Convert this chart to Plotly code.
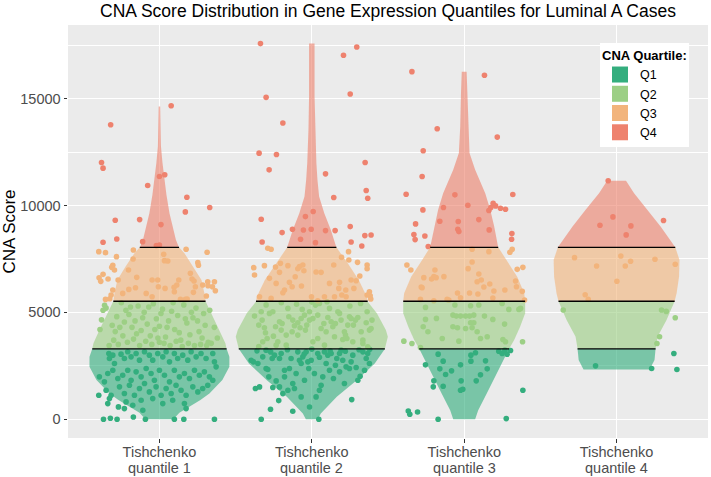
import numpy as np
import plotly.graph_objects as go

# ---------------- data ----------------
categories = ["Tishchenko<br>quantile 1", "Tishchenko<br>quantile 2",
              "Tishchenko<br>quantile 3", "Tishchenko<br>quantile 4"]
quartile_names = ["Q1", "Q2", "Q3", "Q4"]
quartile_breaks = [3295, 5520, 8045]          # CNA score quartile cut points
y_tick_values = [0, 5000, 10000, 15000]
y_tick_labels = ["0", "5000", "10000", "15000"]

# violin outlines: CNA score levels and half-width (density, in category units)
g1_prof_val = [0, 300, 900, 1200, 1830, 2450, 2920, 3310, 3550, 4170, 4950, 5530, 5890,
               6520, 7140, 7770, 8060, 8400, 9020, 9640, 10500, 11200, 12000, 12770, 13500, 14640]
g1_prof_hw = [0.092, 0.131, 0.269, 0.328, 0.413, 0.459, 0.459, 0.440, 0.433, 0.394, 0.341, 0.302, 0.295,
              0.276, 0.223, 0.164, 0.127, 0.108, 0.085, 0.066, 0.046, 0.033, 0.020, 0.010, 0.008, 0.005]
g2_prof_val = [0, 266, 1047, 1828, 2610, 3282, 3860, 4172, 4954, 5500, 5735, 6516, 7298, 8049,
               8860, 9642, 10422, 11204, 11986, 13548, 15110, 17580]
g2_prof_hw = [0.039, 0.059, 0.164, 0.295, 0.413, 0.479, 0.499, 0.486, 0.427, 0.367, 0.361, 0.308, 0.236, 0.161,
              0.125, 0.082, 0.048, 0.037, 0.030, 0.022, 0.018, 0.018]
g3_prof_val = [0, 422, 1203, 1985, 2766, 3297, 3704, 4329, 4954, 5532, 5891, 6672, 7454, 8049,
               9017, 9798, 10580, 11673, 12455, 13704, 15268, 16267]
g3_prof_hw = [0.072, 0.092, 0.148, 0.203, 0.256, 0.295, 0.328, 0.367, 0.400, 0.400, 0.394, 0.348, 0.276, 0.223,
              0.197, 0.171, 0.138, 0.072, 0.035, 0.026, 0.021, 0.016]
g4_prof_val = [2328, 2766, 3297, 3860, 4641, 5516, 5891, 6672, 7454, 8049, 9017, 9798, 10580, 11157]
g4_prof_hw = [0.217, 0.249, 0.256, 0.269, 0.328, 0.381, 0.394, 0.410, 0.413, 0.385, 0.289, 0.203, 0.115, 0.062]

# jittered cases: [horizontal jitter (category units), CNA score]
g1_points = [
    [0.077, 14673], [-0.32, 13782], [-0.38, 12016], [-0.37, 11750], [0.0, 11359], [0.035, 11438],
    [-0.077, 10937], [0.18, 10390], [0.17, 9703], [0.33, 9906], [-0.29, 9312], [-0.13, 9343],
    [0.01, 9109], [-0.28, 8436], [-0.37, 8280], [-0.11, 8311], [-0.02, 8124], [0.0, 8155],
    [-0.398, 7843], [-0.354, 7796], [-0.171, 7921], [0.175, 7952], [0.313, 7811], [-0.282, 7608],
    [0.028, 7717], [-0.306, 7202], [-0.313, 7108], [-0.295, 6983], [-0.203, 6983], [-0.149, 6639],
    [-0.370, 6780], [-0.337, 6561], [-0.396, 6623], [-0.385, 6452], [-0.271, 6514], [-0.048, 6514],
    [-0.011, 6514], [-0.007, 6201], [0.037, 6123], [0.096, 6170], [0.127, 6514], [0.114, 6279],
    [0.214, 6561], [0.227, 6467], [0.252, 7327], [0.256, 7202], [0.203, 6827], [0.055, 7405],
    [0.033, 7420], [0.236, 6201], [0.317, 6436], [0.319, 6248], [0.361, 6436], [0.348, 6201],
    [0.367, 6014], [-0.317, 5811], [-0.326, 5639], [-0.354, 5607], [-0.241, 5889], [-0.201, 6076],
    [-0.087, 5889], [-0.048, 5733], [0.098, 5967], [0.138, 5607], [0.171, 5607], [0.182, 5623],
    [0.223, 5936], [0.284, 6279], [0.308, 5764], [-0.173, 7499], [-0.157, 6154], [-0.306, 6045],
    [-0.36, 5330], [-0.35, 5200], [-0.37, 5100], [-0.38, 4650], [-0.31, 4400], [-0.28, 4800],
    [-0.25, 5450], [-0.22, 5100], [-0.2, 4900], [-0.18, 4300], [-0.16, 4600], [-0.14, 5300],
    [-0.12, 4150], [-0.1, 5000], [-0.08, 4450], [-0.06, 3900], [-0.04, 5400], [-0.02, 4700],
    [0.0, 4350], [0.02, 5150], [0.04, 3850], [0.06, 4600], [0.08, 5050], [0.1, 4200],
    [0.12, 4850], [0.14, 3700], [0.16, 5350], [0.18, 4500], [0.2, 3950], [0.22, 4750],
    [0.24, 5200], [0.26, 4100], [0.28, 3800], [0.3, 4400], [0.32, 3600], [-0.3, 3700],
    [-0.27, 3500], [-0.24, 3900], [-0.21, 3600], [-0.17, 3750], [-0.13, 3450], [-0.09, 3650],
    [-0.05, 3500], [-0.01, 3800], [0.03, 3550], [0.07, 3450], [0.11, 3650], [0.15, 3400],
    [0.19, 3550], [0.23, 3450], [0.27, 3500], [0.31, 3450], [0.34, 3550], [-0.33, 3450],
    [-0.29, 4100], [-0.26, 4300], [-0.23, 4550], [-0.19, 5250], [-0.15, 4000], [-0.11, 4750],
    [-0.07, 5250], [-0.03, 4200], [0.01, 4950], [0.05, 4300], [0.09, 5450], [0.13, 4050],
    [0.17, 4700], [0.21, 5000], [0.25, 4600], [0.29, 4950], [0.33, 5100], [0.36, 4300],
    [0.38, 3800], [-0.39, 4200], [0.0, 3600],
    [-0.332, 3076], [-0.306, 2997], [-0.328, 2841], [-0.295, 2607], [-0.252, 3044], [-0.230, 2841],
    [-0.208, 3154], [-0.186, 2919], [-0.153, 3076], [-0.131, 2763], [-0.098, 3154], [-0.066, 2997],
    [-0.044, 2763], [-0.011, 3076], [0.022, 2919], [0.044, 3154], [0.066, 2685], [0.098, 3076],
    [0.120, 2841], [0.153, 2997], [0.186, 2763], [0.208, 3154], [0.241, 2919], [0.273, 3076],
    [0.306, 2841], [0.350, 3076], [0.361, 2685], [-0.394, 1981], [-0.361, 1747], [-0.339, 2138],
    [-0.306, 2294], [-0.273, 1903], [-0.241, 2060], [-0.208, 2294], [-0.186, 1825], [-0.153, 2216],
    [-0.120, 1981], [-0.087, 2372], [-0.055, 2138], [-0.033, 1825], [0.0, 2294], [0.033, 2060],
    [0.066, 1747], [0.098, 2294], [0.131, 1981], [0.164, 2138], [0.197, 1903], [0.230, 2294],
    [0.262, 2060], [0.295, 2216], [0.328, 1981], [0.350, 1825], [-0.350, 1356], [-0.317, 1122],
    [-0.262, 1513], [-0.230, 1200], [-0.197, 1591], [-0.164, 1122], [-0.131, 1434], [-0.098, 1669],
    [-0.066, 1278], [-0.022, 1513], [0.011, 1122], [0.044, 1434], [0.077, 1200], [0.109, 1591],
    [0.142, 1356], [0.175, 1122], [0.219, 1513], [0.252, 1278], [0.284, 1434], [0.317, 1591],
    [-0.328, 965], [-0.339, 731], [-0.269, 575], [-0.219, 809], [-0.175, 653], [-0.120, 887],
    [-0.044, 965], [0.022, 731], [0.087, 887], [0.164, 731], [0.175, 496], [-0.230, 496],
    [-0.109, 418], [-0.367, 0], [-0.322, 43], [-0.278, 0], [-0.171, 105], [-0.092, 0],
    [0.098, 0], [0.160, 0], [0.361, 0], [-0.398, 1122], [0.372, 2450],
]
g2_points = [
    [-0.337, 17580], [0.295, 17423], [0.208, 17032], [-0.300, 15063], [0.252, 15219], [-0.190, 13860],
    [-0.346, 12453], [-0.232, 12390], [-0.280, 11671], [0.350, 12015], [0.090, 11484], [0.357, 10702],
    [0.367, 10343], [0.144, 10374], [-0.332, 9358], [0.009, 9718], [-0.042, 9483], [-0.127, 8889],
    [-0.195, 8733], [-0.055, 8858], [-0.004, 8889], [0.090, 8827], [0.153, 8827], [0.252, 9014],
    [-0.074, 8420], [0.024, 8264], [-0.326, 8295], [0.258, 8295], [0.348, 8592], [0.389, 8624],
    [0.328, 8108],
    [-0.289, 8000], [-0.267, 7951], [-0.381, 7092], [-0.376, 6748], [-0.311, 7186], [-0.238, 7123],
    [-0.278, 6592], [-0.206, 7295], [-0.157, 7186], [-0.092, 7045], [-0.081, 7139], [-0.059, 7217],
    [-0.052, 6951], [-0.212, 6873], [-0.147, 6404], [-0.109, 6670], [-0.129, 6201], [-0.068, 6232],
    [0.028, 6889], [0.061, 6873], [0.144, 7217], [0.195, 7576], [0.243, 7451], [0.241, 7842],
    [0.300, 7342], [0.363, 7217], [0.363, 7045], [0.315, 6701], [0.291, 6482], [0.258, 6514],
    [0.223, 6045], [0.197, 5810], [0.177, 6123], [0.182, 6404], [0.116, 6357], [-0.002, 5732],
    [0.083, 5732], [0.149, 5732], [0.225, 5732], [0.276, 6123], [0.378, 5967], [0.383, 5779],
    [0.387, 5623], [0.363, 5810], [0.039, 5545], [-0.343, 5732], [-0.267, 5654], [-0.179, 6045],
    [-0.190, 5920], [-0.234, 6357],
    [-0.376, 4826], [-0.332, 5029], [-0.326, 4638], [-0.348, 4404], [-0.311, 4279], [-0.304, 4044],
    [-0.322, 3622], [-0.278, 4951], [-0.256, 5029], [-0.238, 4326], [-0.212, 4560], [-0.201, 4169],
    [-0.195, 4482], [-0.223, 3622], [-0.234, 3466], [-0.157, 5185], [-0.151, 4795], [-0.125, 4638],
    [-0.114, 4372], [-0.092, 4513], [-0.077, 4279], [-0.070, 4716], [-0.063, 5138], [-0.048, 4872],
    [-0.033, 4404], [-0.015, 5029], [-0.015, 4638], [0.007, 4716], [0.024, 5341], [0.039, 4872],
    [0.050, 5419], [0.061, 4247], [0.079, 4482], [0.094, 4091], [0.105, 4763], [0.116, 5185],
    [0.127, 4560], [0.138, 4326], [0.155, 4482], [0.171, 5029], [0.182, 4951], [0.192, 4638],
    [0.214, 4091], [0.221, 3935], [0.230, 3779], [0.236, 4404], [0.247, 4795], [0.258, 4716],
    [0.273, 4404], [0.287, 4638], [0.302, 4763], [0.324, 4091], [0.335, 3700], [0.357, 4513],
    [0.363, 5029], [0.378, 4169], [0.389, 4247], [0.395, 4638], [-0.348, 3400], [-0.293, 3778],
    [-0.252, 3888], [-0.168, 3935], [-0.129, 4091], [-0.092, 3935], [-0.042, 4169], [0.039, 3778],
    [0.149, 3857], [0.203, 3732], [0.269, 3622], [0.335, 3544], [0.367, 3388], [-0.168, 3466],
    [0.007, 3622], [0.083, 3466], [-0.30, 5350], [-0.20, 5450], [0.0, 5480], [0.25, 5300],
    [0.32, 5420], [-0.10, 5380], [0.10, 5500],
    [-0.398, 2762], [-0.383, 2684], [-0.370, 1434], [-0.343, 1512], [-0.354, 2606], [-0.322, 2919],
    [-0.300, 2371], [-0.289, 2325], [-0.282, 1981], [-0.271, 465], [-0.260, 2840], [-0.256, 1481],
    [-0.245, 2997], [-0.234, 1793], [-0.217, 871], [-0.212, 1512], [-0.201, 3075], [-0.190, 1199],
    [-0.179, 2293], [-0.179, 1981], [-0.157, 1356], [-0.147, 2371], [-0.136, 2840], [-0.125, 371],
    [-0.114, 1434], [-0.103, 2137], [-0.092, 3153], [-0.081, 2762], [-0.070, 2606], [-0.059, 2919],
    [-0.048, 1825], [-0.037, 3153], [-0.026, 2684], [-0.020, 2371], [-0.004, 2762], [0.017, 2137],
    [0.028, 1043], [0.039, 3075], [0.046, 0], [0.050, 1356], [0.061, 1590], [0.072, 1981],
    [0.083, 3153], [0.094, 2606], [0.105, 2997], [0.116, 2293], [0.127, 3075], [0.142, 1903],
    [0.155, 2528], [0.164, 2840], [0.182, 2215], [0.192, 3231], [0.203, 2762], [0.214, 1668],
    [0.225, 2450], [0.247, 2371], [0.258, 2684], [0.262, 918], [0.269, 2997], [0.291, 2418],
    [0.302, 1825], [0.317, 2012], [0.335, 3153], [0.346, 2293], [0.357, 2840], [0.367, 3075],
    [0.378, 2606], [-0.332, 0], [-0.125, 1668], [-0.070, 1043], [-0.015, 574], [-0.300, 3231],
    [-0.212, 2840], [0.182, 3075], [-0.36, 3200], [-0.16, 3250], [0.0, 3280], [0.22, 3180],
    [0.31, 3250], [-0.05, 3050], [0.12, 3200], [-0.27, 3150], [0.38, 3270], [0.05, 2900],
]
g3_points = [
    [-0.343, 16267], [0.133, 16095], [-0.177, 13595], [0.217, 13204], [-0.269, 12563], [-0.276, 11360],
    [-0.381, 10531], [0.319, 10516], [-0.061, 10500], [0.024, 10016], [-0.136, 9906], [-0.271, 9797],
    [0.190, 10109], [0.206, 9984], [0.162, 9766], [0.175, 9906], [0.238, 9875], [0.271, 9828],
    [-0.160, 9265], [-0.039, 9250], [0.096, 9343], [-0.319, 9140], [-0.042, 8890], [-0.035, 8780],
    [0.164, 8859], [-0.330, 8640], [-0.322, 8405], [-0.258, 8577], [0.313, 8687], [0.311, 8421],
    [-0.236, 8080],
    [0.052, 7952], [0.162, 7843], [0.315, 7952], [0.300, 7812], [-0.376, 7218], [-0.350, 6983],
    [0.348, 7014], [0.385, 7108], [-0.192, 6983], [0.052, 7358], [0.026, 7046], [-0.265, 6624],
    [-0.214, 6561], [-0.199, 6671], [-0.184, 6624], [-0.133, 6671], [0.096, 6796], [0.112, 6514],
    [0.085, 6436], [0.168, 6327], [-0.282, 6186], [-0.276, 6155], [-0.044, 5905], [0.035, 5905],
    [-0.024, 5686], [-0.112, 5608], [-0.101, 5577], [0.090, 5858], [0.129, 6186], [0.195, 5998],
    [0.267, 6045], [0.343, 6202], [0.337, 6467], [0.381, 5983], [0.396, 5577], [0.188, 5670],
    [-0.287, 5608], [-0.199, 5545],
    [-0.254, 5233], [-0.061, 5342], [-0.024, 4826], [0.042, 5311], [0.096, 5342], [0.249, 5420],
    [0.293, 5139], [0.359, 5139], [0.370, 5186], [-0.254, 4670], [-0.182, 4717], [-0.074, 4873],
    [-0.052, 4826], [0.009, 4826], [0.035, 4826], [0.063, 4873], [0.133, 4826], [0.188, 4670],
    [-0.269, 4326], [-0.238, 4092], [-0.074, 4326], [-0.044, 4279], [0.009, 4248], [0.042, 4514],
    [0.063, 4514], [0.052, 4279], [0.085, 4092], [0.265, 4451], [-0.144, 3779], [-0.035, 3654],
    [0.107, 3779], [0.151, 3857], [-0.396, 3654], [-0.343, 3545], [0.254, 3732], [0.271, 3623],
    [0.383, 3623], [-0.287, 3357],
    [-0.171, 3045], [-0.138, 2716], [-0.254, 2544], [-0.160, 2357], [-0.122, 2091], [-0.083, 2263],
    [-0.024, 2544], [0.044, 2998], [0.074, 3107], [0.044, 2716], [0.140, 2732], [0.151, 2357],
    [0.107, 2075], [0.227, 3185], [0.249, 3076], [0.267, 3232], [0.282, 3045], [0.304, 3217],
    [-0.199, 1794], [-0.203, 1513], [-0.138, 1544], [-0.020, 1794], [-0.024, 1357], [-0.009, 1403],
    [0.079, 1794], [0.385, 1357], [-0.367, 387], [-0.357, 231], [-0.306, 340], [-0.171, 0],
    [0.276, 28],
]
g4_points = [
    [-0.055, 11157], [-0.109, 9079], [-0.024, 9469], [0.094, 9047], [0.063, 8625], [0.308, 9297],
    [-0.276, 7562], [-0.131, 7172], [0.028, 7641], [0.092, 7391], [0.057, 7172], [0.252, 7484],
    [0.385, 7250], [0.002, 6453], [-0.206, 5827], [-0.186, 5609],
    [-0.350, 5108], [0.295, 5108], [0.326, 5046], [0.385, 4749], [0.282, 3858], [0.265, 3546],
    [-0.138, 2498], [0.230, 2373], [0.376, 3077], [0.396, 2326],
]

# ---------------- styling ----------------
point_colors = ["#34AE7E", "#9CCF85", "#F2B47C", "#EE826E"]
fill_colors = ["rgba(52,174,126,0.62)", "rgba(156,207,133,0.62)",
               "rgba(242,180,124,0.62)", "rgba(238,130,110,0.62)"]
FONT = "Liberation Sans, Arial, Helvetica, sans-serif"
W, H = 711, 477
ML, MR, MT, MB = 68, 3, 25, 39
plot_h = H - MT - MB

profiles = [(g1_prof_val, g1_prof_hw), (g2_prof_val, g2_prof_hw),
            (g3_prof_val, g3_prof_hw), (g4_prof_val, g4_prof_hw)]
groups_points = [g1_points, g2_points, g3_points, g4_points]
positions = list(range(1, len(categories) + 1))

fig = go.Figure()

# jittered points (drawn first, violins on top)
breaks = np.array(quartile_breaks)
for q in range(4):
    xs, ys = [], []
    for gi, pts in enumerate(groups_points):
        arr = np.array(pts, dtype=float)
        qi = np.digitize(arr[:, 1], breaks)
        sel = arr[qi == q]
        xs.extend((positions[gi] + sel[:, 0]).tolist())
        ys.extend(sel[:, 1].tolist())
    fig.add_trace(go.Scatter(x=xs, y=ys, mode="markers", showlegend=False,
                             marker=dict(size=5.6, color=point_colors[q], line=dict(width=0)),
                             hoverinfo="skip"))

# violin segments
edges = [-np.inf] + quartile_breaks + [np.inf]
line_x, line_y = [], []
for gi, (pv, ph) in enumerate(profiles):
    pv = np.asarray(pv, float)
    ph = np.asarray(ph, float)
    c = positions[gi]
    for q in range(4):
        lo = max(edges[q], pv[0])
        hi = min(edges[q + 1], pv[-1])
        if hi <= lo:
            continue
        inner = pv[(pv > lo) & (pv < hi)]
        yy = np.concatenate([[lo], inner, [hi]])
        hw = np.interp(yy, pv, ph)
        px = np.concatenate([c - hw, (c + hw)[::-1]])
        py = np.concatenate([yy, yy[::-1]])
        fig.add_trace(go.Scatter(x=px, y=py, mode="lines", fill="toself",
                                 fillcolor=fill_colors[q], line=dict(width=0),
                                 showlegend=False, hoverinfo="skip"))
    for b in quartile_breaks:
        if pv[0] < b < pv[-1]:
            w = float(np.interp(b, pv, ph))
            line_x += [c - w, c + w, None]
            line_y += [b, b, None]

fig.add_trace(go.Scatter(x=line_x, y=line_y, mode="lines",
                         line=dict(color="black", width=1.3),
                         showlegend=False, hoverinfo="skip"))

# legend entries
for q in range(4):
    fig.add_trace(go.Scatter(x=[None], y=[None], mode="markers", name=quartile_names[q],
                             marker=dict(symbol="square", size=16, color=point_colors[q])))

# x tick labels: first line as tick text, second line as a tight annotation (ggplot line height)
first_lines = [c.split("<br>")[0] for c in categories]
second_lines = [c.split("<br>")[1] for c in categories]
annotations = []
for pos, txt in zip(positions, second_lines):
    annotations.append(dict(x=pos, xref="x", y=-(468.3 - (H - MB)) / plot_h, yref="paper",
                            text=txt, showarrow=False, xanchor="center", yanchor="middle",
                            font=dict(size=14.5, color="#4D4D4D", family=FONT)))

fig.update_layout(
    width=W, height=H,
    margin=dict(l=ML, r=MR, t=MT, b=MB, autoexpand=False),
    paper_bgcolor="white", plot_bgcolor="#EBEBEB",
    font=dict(family=FONT, color="black"),
    title=dict(text="CNA Score Distribution in Gene Expression Quantiles for Luminal A Cases",
               x=0.5, xref="paper", xanchor="center",
               y=1 - 11 / H, yref="container", yanchor="middle",
               font=dict(size=17.5, color="black", family=FONT)),
    showlegend=True,
    legend=dict(title=dict(text="<b>CNA Quartile:</b>", font=dict(size=13, color="black")),
                font=dict(size=12.5, color="black"),
                bgcolor="white", borderwidth=0,
                x=(689 - ML) / (W - ML - MR), xanchor="right",
                y=(H - MB - 43) / plot_h, yanchor="top",
                itemwidth=30, tracegroupgap=0),
    annotations=annotations,
    xaxis=dict(range=[0.4, 4.6], tickvals=positions, ticktext=first_lines, automargin=False,
               showgrid=True, gridcolor="white", gridwidth=1.1, zeroline=False,
               ticks="outside", ticklen=3.5, tickcolor="#333333", tickwidth=1,
               ticklabelstandoff=-3,
               tickfont=dict(size=14.5, color="#4D4D4D", family=FONT), showline=False),
    yaxis=dict(range=[-880, 18450], tickvals=y_tick_values, ticktext=y_tick_labels, automargin=False,
               showgrid=True, gridcolor="white", gridwidth=1.1, zeroline=False,
               ticks="outside", ticklen=3.5, tickcolor="#333333", tickwidth=1,
               tickfont=dict(size=14.5, color="#4D4D4D", family=FONT), showline=False,
               minor=dict(tickvals=[2500, 7500, 12500, 17500], showgrid=True,
                          gridcolor="white", gridwidth=0.55, ticks=""),
               title=dict(text="CNA Score", font=dict(size=17, color="black", family=FONT),
                          standoff=5)),
)

# remove the browser's default 8px page margin so the figure sits at the window origin
fig.write_html("out.html",
               config={"displayModeBar": False},
               post_script="document.body.style.margin='0';document.body.style.padding='0';")
